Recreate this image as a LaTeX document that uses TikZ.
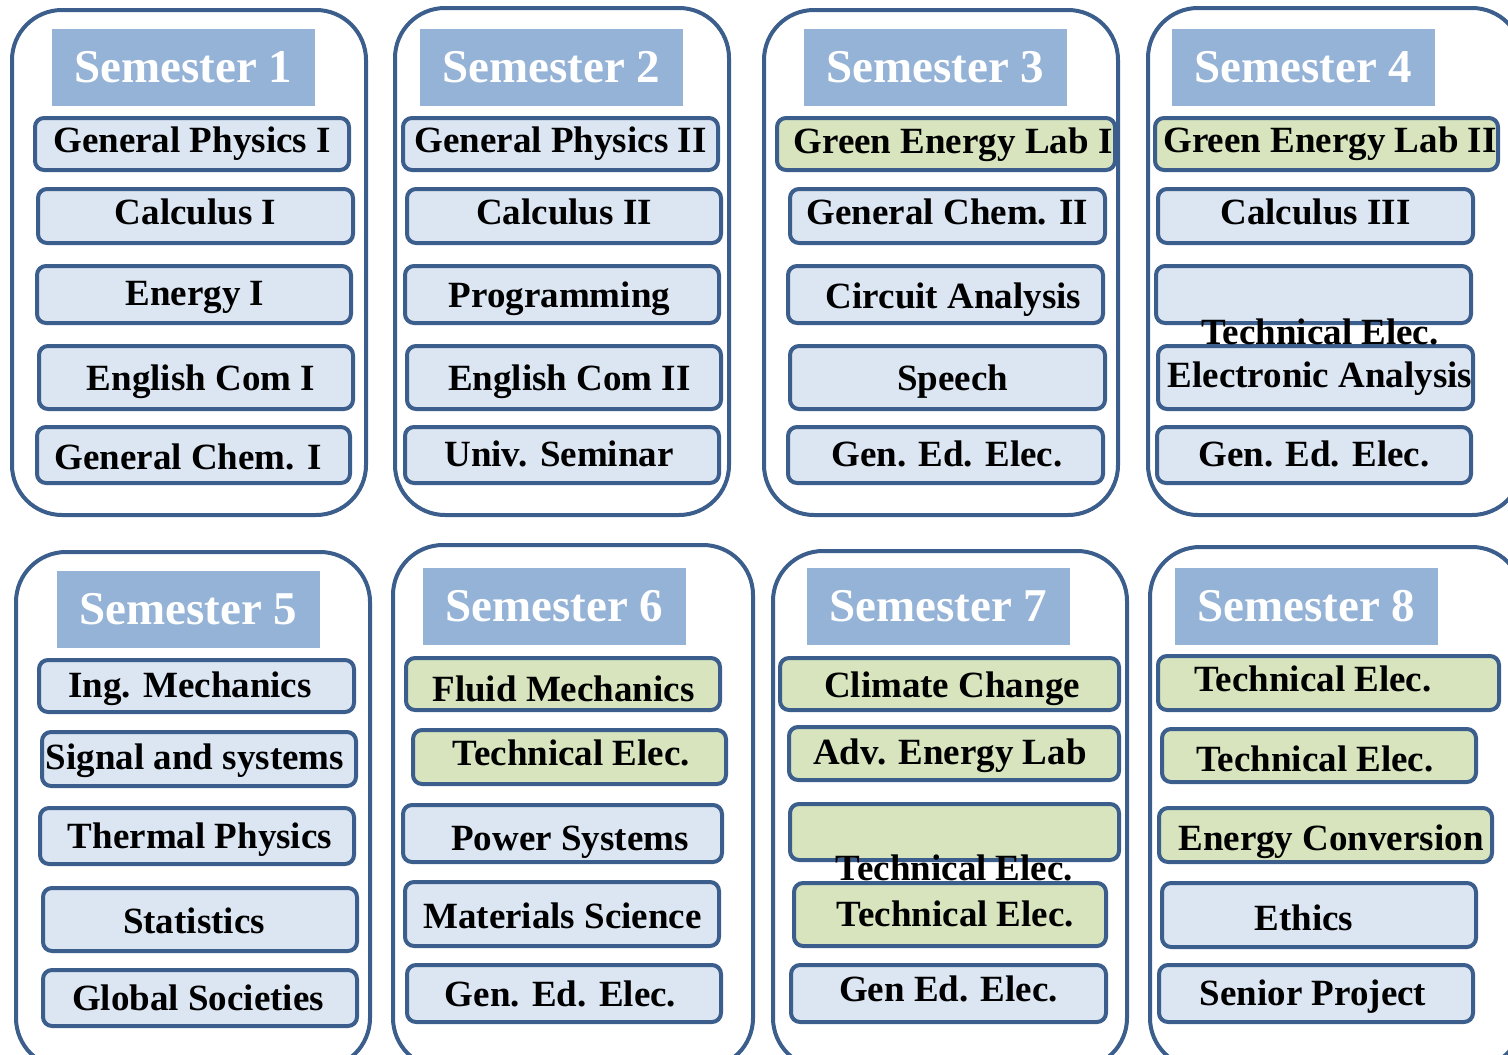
\documentclass[tikz,border=0pt]{standalone}
\usepackage{fontspec}
\setmainfont{Liberation Serif}
\definecolor{frameblue}{HTML}{3B5E8C}
\definecolor{headblue}{HTML}{95B3D7}
\definecolor{coursefill}{HTML}{DCE6F2}
\definecolor{labgreen}{HTML}{D7E4BD}
\tikzset{
	semframe/.style={draw=frameblue, line width=4pt, rounded corners=50pt},
	semhead/.style={fill=headblue, text=white, inner sep=0pt,
		minimum width=263pt, minimum height=77pt,
		font=\fontsize{47}{50}\selectfont\bfseries},
	course/.style={draw=frameblue, fill=coursefill, line width=4pt, rounded corners=9pt,
		inner sep=0pt, text height=25pt, text depth=8pt,
		font=\fontsize{37}{40}\selectfont\bfseries},
	greencourse/.style={course, fill=labgreen},
	overtext/.style={inner sep=0pt, text height=25pt, text depth=8pt,
		font=\fontsize{37}{40}\selectfont\bfseries},
	sz/.style 2 args={minimum width=#1pt, minimum height=#2pt},
	% kern before the text, and text height (moves the text right / down)
	nudge/.style 2 args={execute at begin node={\kern#1pt}, text height=#2pt}
}
\begin{document}
\begin{tikzpicture}[x=1pt, y=-1pt]
	\useasboundingbox (0,0) rectangle (1508,1055);
	\clip (0,0) rectangle (1508,1055);
	% frames
	\draw[semframe] (12,10) rectangle (366,515);
	\draw[semframe] (395,8) rectangle (729,515);
	\draw[semframe] (764,10) rectangle (1118,515);
	\draw[semframe] (1148,8) rectangle (1522,515);
	\draw[semframe] (16,552) rectangle (370,1068);
	\draw[semframe] (393,545) rectangle (753,1068);
	\draw[semframe] (773,551) rectangle (1127,1068);
	\draw[semframe] (1150,547) rectangle (1522,1068);
	% headers
	\node[semhead] (semone) at (183.5,67.5) {Semester 1};
	\node[semhead] (semtwo) at (551.5,67.5) {Semester 2};
	\node[semhead] (semthree) at (935.5,67.5) {Semester 3};
	\node[semhead] (semfour) at (1303.5,67.5) {Semester 4};
	\node[semhead] (semfive) at (188.5,609.5) {Semester 5};
	\node[semhead] (semsix) at (554.5,606.5) {Semester 6};
	\node[semhead] (semseven) at (938.5,606.5) {Semester 7};
	\node[semhead] (semeight) at (1306.5,606.5) {Semester 8};
	% semester 1
	\node[course, sz={314}{52}] (gpone) at (192,144) {General Physics I};
	\node[course, sz={315}{54}] (calcone) at (195.5,216) {Calculus I};
	\node[course, sz={314}{57}, nudge={2}{29}] (energyone) at (194,294.5) {Energy I};
	\node[course, sz={314}{63}, nudge={10}{33}] (engone) at (196,377.5) {English Com I};
	\node[course, sz={313}{56}, nudge={-11}{36}] (chemone) at (193.5,455) {General Chem. I};
	% semester 2
	\node[course, sz={315}{52}] (gptwo) at (560.5,144) {General Physics II};
	\node[course, sz={314}{54}] (calctwo) at (564,216) {Calculus II};
	\node[course, sz={314}{57}, nudge={-5}{33}] (prog) at (562,294.5) {Programming};
	\node[course, sz={314}{63}, nudge={11}{33}] (engtwo) at (564,377.5) {English Com II};
	\node[course, sz={314}{56}, nudge={-6}{30}] (seminar) at (562,455) {Univ. Seminar};
	% semester 3
	\node[greencourse, sz={338}{52}, nudge={14}{26}] (labone) at (946,144) {Green Energy Lab I};
	\node[course, sz={315}{54}] (chemtwo) at (947.5,216) {General Chem. II};
	\node[course, sz={315}{57}, nudge={16}{35}] (circuit) at (945.5,294.5) {Circuit Analysis};
	\node[course, sz={315}{63}, nudge={10}{33}] (speech) at (947.5,377.5) {Speech};
	\node[course, sz={315}{56}, nudge={3}{30}] (gedthree) at (945.5,455) {Gen. Ed. Elec.};
	% semester 4
	\node[greencourse, sz={343}{52}, nudge={7}{25}] (labtwo) at (1326.5,144) {Green Energy Lab II};
	\node[course, sz={315}{54}] (calcthree) at (1315.5,216) {Calculus III};
	\node[course, sz={315}{57}] (techfour) at (1313.5,294.5) {};
	\node[course, sz={315}{63}, nudge={9}{27}] (electronic) at (1315.5,377.5) {Electronic Analysis};
	\node[course, sz={314}{56}, nudge={0}{30}] (gedfour) at (1314,455) {Gen. Ed. Elec.};
	\node[overtext] (techfourtext) at (1320,336) {Technical Elec.};
	% semester 5
	\node[course, sz={315}{52}, nudge={-13}{30}] (mech) at (196.5,686) {Ing. Mechanics};
	\node[course, sz={314}{54}, nudge={-8}{28}] (signal) at (199,759) {Signal and systems};
	\node[course, sz={314}{56}, nudge={6}{32}] (thermal) at (197,836) {Thermal Physics};
	\node[course, sz={314}{63}, nudge={-12}{35}] (stats) at (200,919.5) {Statistics};
	\node[course, sz={314}{56}, nudge={-4}{32}] (global) at (200,998) {Global Societies};
	% semester 6
	\node[greencourse, sz={314}{52}, nudge={1}{42}] (fluid) at (563,684) {Fluid Mechanics};
	\node[greencourse, sz={313}{54}, nudge={4}{25}] (techsix) at (569.5,757) {Technical Elec.};
	\node[course, sz={319}{57}, nudge={15}{41}] (power) at (562.5,833.5) {Power Systems};
	\node[course, sz={314}{64}, nudge={1}{36}] (materials) at (562,914) {Materials Science};
	\node[course, sz={314}{57}, nudge={-7}{33}] (gedsix) at (564,993.5) {Gen. Ed. Elec.};
	% semester 7
	\node[greencourse, sz={339}{52}, nudge={5}{34}] (climate) at (949.5,684) {Climate Change};
	\node[greencourse, sz={330}{53}, nudge={-8}{29}] (advlab) at (954,753.5) {Adv. Energy Lab};
	\node[greencourse, sz={329}{56}] (techseven) at (954.5,832) {};
	\node[greencourse, sz={312}{63}, nudge={11}{31}] (techsevenb) at (950,914.5) {Technical Elec.};
	\node[course, sz={315}{57}, nudge={0}{23}] (gedseven) at (948.5,993.5) {Gen Ed. Elec.};
	\node[overtext] (techseventext) at (954.5,872) {Technical Elec.};
	% semester 8
	\node[greencourse, sz={341}{54}, nudge={-31}{25}] (techeight) at (1328.5,683) {Technical Elec.};
	\node[greencourse, sz={314}{53}, nudge={-8}{39}] (techeightb) at (1319,755.5) {Technical Elec.};
	\node[greencourse, sz={333}{54}, nudge={11}{38}] (conversion) at (1325.5,835) {Energy Conversion};
	\node[course, sz={314}{64}, nudge={-30}{38}] (ethics) at (1319,915) {Ethics};
	\node[course, sz={314}{57}, nudge={-6}{31}] (senior) at (1316,993.5) {Senior Project};
\end{tikzpicture}
\end{document}
